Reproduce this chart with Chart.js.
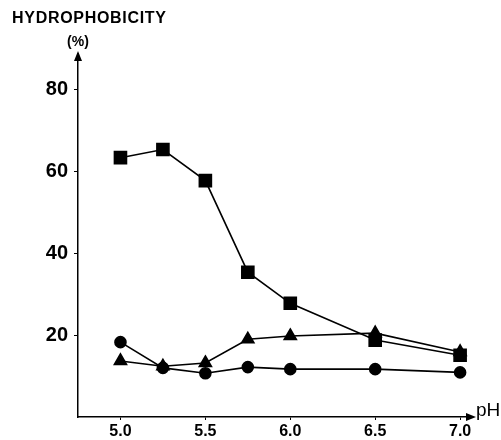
<!DOCTYPE html>
<html lang="en">
<head>
<meta charset="UTF-8">
<title>Hydrophobicity vs pH</title>
<style>
  html, body { margin: 0; padding: 0; background: #fff; }
  #wrap { width: 501px; height: 440px; }
</style>
</head>
<body>
<div id="wrap"><canvas id="myChart" width="501" height="440"></canvas></div>

<script src="https://cdn.jsdelivr.net/npm/chart.js@4.4.0/dist/chart.umd.min.js"></script>
<script>
// data
const phValues = [5.0, 5.25, 5.5, 5.75, 6.0, 6.5, 7.0];
const squareSeries = [63.4, 65.4, 57.8, 35.4, 27.8, 18.8, 15.1];
const triangleSeries = [13.7, 12.4, 13.2, 19.0, 19.8, 20.5, 15.9];
const circleSeries = [18.3, 12.0, 10.7, 12.2, 11.7, 11.7, 10.9];
const xTickValues = [5.0, 5.5, 6.0, 6.5, 7.0];
const yTickValues = [20, 40, 60, 80];

function pts(ys) {
  return phValues.map((x, i) => ({ x: x, y: ys[i] }));
}

const FONT = '"Liberation Sans", Arial, sans-serif';

// axis arrows + titles
const decorations = {
  id: 'decorations',
  afterDraw(chart) {
    const c = chart.ctx;
    const a = chart.chartArea;
    c.save();
    c.fillStyle = '#000';
    c.strokeStyle = '#000';
    c.lineWidth = 1.5;
    // y arrow
    c.beginPath();
    c.moveTo(a.left, a.top + 4);
    c.lineTo(a.left, a.top - 2);
    c.stroke();
    c.beginPath();
    c.moveTo(a.left, a.top - 4);
    c.lineTo(a.left - 4, a.top + 6);
    c.lineTo(a.left + 4, a.top + 6);
    c.closePath();
    c.fill();
    // x arrow
    c.beginPath();
    c.moveTo(a.right + 4, a.bottom);
    c.lineTo(a.right - 6, a.bottom - 4);
    c.lineTo(a.right - 6, a.bottom + 4);
    c.closePath();
    c.fill();

    c.font = 'bold 16px ' + FONT;
    c.textBaseline = 'middle';
    c.textAlign = 'left';
    if ('letterSpacing' in c) c.letterSpacing = '0.7px';
    c.fillText('HYDROPHOBICITY', 12, 19);
    if ('letterSpacing' in c) c.letterSpacing = '0px';
    c.font = 'bold 14px ' + FONT;
    c.textAlign = 'center';
    c.fillText('(%)', 78, 42);
    c.font = '19px ' + FONT;
    c.textAlign = 'left';
    c.fillText('pH', 476, 411);
    c.restore();
  }
};

var ctx = document.getElementById('myChart').getContext('2d');
var chart = new Chart(ctx, {
  type: 'line',
  data: {
    datasets: [{
      label: 'squares',
      data: pts(squareSeries),
      borderColor: '#000',
      backgroundColor: '#000',
      borderWidth: 1.6,
      pointStyle: 'rect',
      pointRadius: 8.5,
    }, {
      label: 'triangles',
      data: pts(triangleSeries),
      borderColor: '#000',
      backgroundColor: '#000',
      borderWidth: 1.6,
      pointStyle: 'triangle',
      pointRadius: 7,
    }, {
      label: 'circles',
      data: pts(circleSeries),
      borderColor: '#000',
      backgroundColor: '#000',
      borderWidth: 1.6,
      pointStyle: 'circle',
      pointRadius: 5.5,
    }]
  },
  options: {
    responsive: false,
    animation: false,
    layout: { padding: { left: 0, right: 29, top: 55, bottom: 0 } },
    plugins: { legend: { display: false }, tooltip: { enabled: false } },
    scales: {
      x: {
        type: 'linear',
        min: 4.75,
        max: 7.07,
        afterBuildTicks: s => { s.ticks = xTickValues.map(v => ({ value: v })); },
        afterFit: s => { s.height = 23; },
        grid: { drawOnChartArea: false, drawTicks: true, tickLength: 3, color: '#000' },
        border: { display: true, color: '#000', width: 1.5 },
        ticks: {
          padding: 2,
          color: '#000',
          font: { family: FONT, size: 16, weight: 'bold' },
          callback: v => v.toFixed(1)
        }
      },
      y: {
        min: 0,
        max: 88.5,
        afterBuildTicks: s => { s.ticks = yTickValues.map(v => ({ value: v })); },
        afterFit: s => { s.width = 78; },
        grid: { drawOnChartArea: false, drawTicks: true, tickLength: 4, color: '#000' },
        border: { display: true, color: '#000', width: 1.5 },
        ticks: {
          padding: 6,
          color: '#000',
          font: { family: FONT, size: 20, weight: 'bold' }
        }
      }
    }
  },
  plugins: [decorations]
});
</script>
</body>
</html>
